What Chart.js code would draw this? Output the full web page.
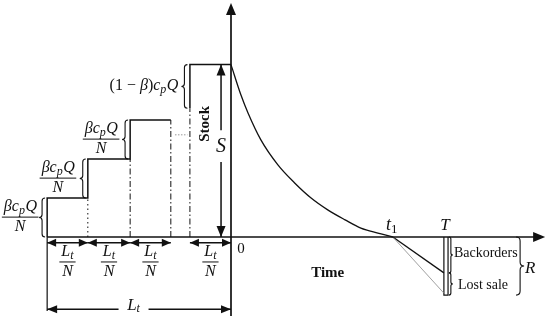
<!DOCTYPE html>
<html>
<head>
<meta charset="utf-8">
<script src="https://cdn.jsdelivr.net/npm/chart.js@4/dist/chart.umd.min.js"></script>
<style>
  html, body { margin: 0; padding: 0; background: #fff; }
  #wrap { width: 550px; height: 316px; }
</style>
</head>
<body>
<div id="wrap"><canvas id="chart"></canvas></div>
<script>
// x unit = one order interval Lt/N, y unit = one partial delivery βcpQ/N
const stepX = [-4.43, -3.45, -2.43, -1.45];   // risers of the stair
const stepLevel = [1, 2, 3];
const lastOrderX = -0.99;
const lastRiserTop = 3.3;
const stockS = 4.42;
const curveX = [0, 0.24, 0.41, 0.72, 1.13, 1.54, 1.93, 2.34, 2.75, 3.13, 3.54, 3.90];
const curveY = [4.42, 3.64, 3.18, 2.49, 1.85, 1.38, 1.00, 0.69, 0.44, 0.23, 0.10, 0];
const t1 = 3.90;
const endT = 5.13;
const backorderY = -0.92;
const lostSaleY = -1.44;
const barBottom = -1.49;
const xAxisEnd = 7.57;
const yAxisTop = 6.0;
const yAxisBottom = -2.03;
const ltArrowY = -1.85;
const stepArrowY = -0.15;

const BLACK = '#111';
const pts = (xs, ys) => xs.map((x, i) => ({ x: x, y: ys[i] }));

function line(data, opts) {
  return Object.assign({
    data: data, showLine: true, borderColor: BLACK, borderWidth: 1.5,
    pointRadius: 0, fill: false, clip: false, tension: 0
  }, opts || {});
}

const datasets = [];
// axes
datasets.push(line([{ x: stepX[0], y: 0 }, { x: xAxisEnd - 0.2, y: 0 }], { borderWidth: 1.7 }));
datasets.push(line([{ x: 0, y: yAxisBottom }, { x: 0, y: yAxisTop - 0.25 }], { borderWidth: 1.7 }));
// stair outline
const stair = [{ x: stepX[0], y: 0 }];
stepLevel.forEach((lv, i) => {
  stair.push({ x: stepX[i], y: lv });
  stair.push({ x: stepX[i + 1], y: lv });
  if (i < stepLevel.length - 1) stair.push({ x: stepX[i + 1], y: stepLevel[i + 1] });
});
datasets.push(line(stair));
// last order
datasets.push(line([{ x: lastOrderX, y: lastRiserTop }, { x: lastOrderX, y: stockS }, { x: 0, y: stockS }]));
// dash-dot risers down to the axis
stepX.slice(1).forEach((x, i) => {
  datasets.push(line([{ x: x, y: 0 }, { x: x, y: stepLevel[i] }],
    { borderWidth: 1, borderDash: i === 0 ? [1.5, 3] : [6, 2.5, 1.5, 2.5] }));
});
datasets.push(line([{ x: lastOrderX, y: 0 }, { x: lastOrderX, y: lastRiserTop }],
  { borderWidth: 1, borderDash: [6, 2.5, 1.5, 2.5] }));
// ellipsis between stairs
datasets.push(line([{ x: -1.35, y: 2.62 }, { x: -1.05, y: 2.62 }], { borderWidth: 1, borderColor: '#999', borderDash: [1.5, 1.5] }));
// inventory depletion curve
datasets.push(line(pts(curveX, curveY), { borderWidth: 1.3, tension: 0.4, cubicInterpolationMode: 'monotone' }));
// shortage lines
datasets.push(line([{ x: t1, y: 0 }, { x: endT, y: lostSaleY }], { borderWidth: 0.8, borderColor: '#888' }));
datasets.push(line([{ x: t1, y: 0 }, { x: endT, y: backorderY }], { borderWidth: 1.3 }));
// replenishment bar at T
datasets.push(line([{ x: endT, y: 0 }, { x: endT, y: barBottom }, { x: endT + 0.1, y: barBottom }, { x: endT + 0.1, y: 0 }], { borderWidth: 1.2 }));
// Lt dimension verticals
datasets.push(line([{ x: stepX[0], y: 0 }, { x: stepX[0], y: ltArrowY - 0.05 }], { borderWidth: 1.2 }));

// annotations in data units
const dimArrows = [
  [stepX[0], stepX[1], stepArrowY], [stepX[1], stepX[2], stepArrowY],
  [stepX[2], stepX[3], stepArrowY], [lastOrderX, 0, stepArrowY]
];
const leftBraces = [
  [stepX[0] - 0.05, 0, 1], [stepX[1] - 0.05, 1, 2], [stepX[2] - 0.05, 2, 3], [lastOrderX - 0.06, lastRiserTop, stockS]
];
const fracLabels = [[-5.08, 0.51], [-4.17, 1.51], [-3.13, 2.51]];

function mathText(ctx, parts, x, y, size, align) {
  const fonts = {
    i: 'italic ' + size + 'px "Liberation Serif"',
    r: size + 'px "Liberation Serif"',
    s: 'italic ' + Math.round(size * 0.72) + 'px "Liberation Serif"',
    sr: Math.round(size * 0.72) + 'px "Liberation Serif"'
  };
  let w = 0;
  parts.forEach(p => { ctx.font = fonts[p[1]]; w += ctx.measureText(p[0]).width; });
  let cx = align === 'left' ? x : align === 'right' ? x - w : x - w / 2;
  ctx.textBaseline = 'middle';
  ctx.textAlign = 'left';
  parts.forEach(p => {
    ctx.font = fonts[p[1]];
    const dy = (p[1] === 's' || p[1] === 'sr') ? size * 0.24 : 0;
    ctx.fillText(p[0], cx, y + dy);
    cx += ctx.measureText(p[0]).width + (p[1] === 's' ? 0.5 : 0);
  });
  return w;
}

function fraction(ctx, num, den, x, y, size) {
  const w1 = mathText(ctx, num, x, y - 10, size, 'center');
  const w2 = mathText(ctx, den, x, y + 10, size, 'center');
  const w = Math.max(w1, w2) + 4;
  ctx.beginPath();
  ctx.moveTo(x - w / 2, y); ctx.lineTo(x + w / 2, y);
  ctx.lineWidth = 1; ctx.stroke();
}

function head(ctx, x, y, dx, dy, len, half) {
  ctx.beginPath();
  ctx.moveTo(x, y);
  ctx.lineTo(x - dx * len - dy * half, y - dy * len + dx * half);
  ctx.lineTo(x - dx * len + dy * half, y - dy * len - dx * half);
  ctx.closePath(); ctx.fill();
}

function brace(ctx, x, y1, y2, dir, w) {
  // dir -1: tip points left, +1: tip points right
  const ym = (y1 + y2) / 2, r = w / 2;
  ctx.beginPath();
  ctx.moveTo(x, y1);
  ctx.quadraticCurveTo(x + dir * r, y1, x + dir * r, y1 + r);
  ctx.lineTo(x + dir * r, ym - r);
  ctx.quadraticCurveTo(x + dir * r, ym, x + dir * w, ym);
  ctx.quadraticCurveTo(x + dir * r, ym, x + dir * r, ym + r);
  ctx.lineTo(x + dir * r, y2 - r);
  ctx.quadraticCurveTo(x + dir * r, y2, x, y2);
  ctx.lineWidth = 1.1; ctx.stroke();
}

const decor = {
  id: 'decor',
  afterDatasetsDraw(chart) {
    const ctx = chart.ctx;
    const px = v => chart.scales.x.getPixelForValue(v);
    const py = v => chart.scales.y.getPixelForValue(v);
    ctx.save();
    ctx.fillStyle = BLACK; ctx.strokeStyle = BLACK;

    // axis arrowheads
    head(ctx, px(xAxisEnd), py(0), 1, 0, 12, 5);
    head(ctx, px(0), py(yAxisTop), 0, -1, 12, 5);

    // Lt/N dimension arrows
    dimArrows.forEach(a => {
      ctx.beginPath(); ctx.moveTo(px(a[0]), py(a[2])); ctx.lineTo(px(a[1]), py(a[2]));
      ctx.lineWidth = 1.5; ctx.stroke();
      head(ctx, px(a[0]), py(a[2]), -1, 0, 9, 4);
      head(ctx, px(a[1]), py(a[2]), 1, 0, 9, 4);
      fraction(ctx, [['L', 'i'], ['t', 's']], [['N', 'i']], (px(a[0]) + px(a[1])) / 2, py(-0.64), 16);
    });

    // Lt arrow with gap for the label
    const lx = px(-2.3), ly = py(ltArrowY);
    ctx.lineWidth = 1.5;
    ctx.beginPath();
    ctx.moveTo(px(stepX[0]), ly); ctx.lineTo(lx - 17, ly);
    ctx.moveTo(lx + 13, ly); ctx.lineTo(px(0), ly);
    ctx.stroke();
    head(ctx, px(stepX[0]), ly, -1, 0, 10, 4);
    head(ctx, px(0), ly, 1, 0, 10, 4);
    mathText(ctx, [['L', 'i'], ['t', 's']], lx - 2, ly - 4, 17, 'center');

    // S arrow
    const sx = px(-0.24);
    ctx.beginPath();
    ctx.moveTo(sx, py(stockS)); ctx.lineTo(sx, py(2.74));
    ctx.moveTo(sx, py(1.92)); ctx.lineTo(sx, py(0));
    ctx.stroke();
    head(ctx, sx, py(stockS), 0, -1, 11, 4.5);
    head(ctx, sx, py(0), 0, 1, 11, 4.5);
    mathText(ctx, [['S', 'i']], sx, py(2.31), 20, 'center');

    // Stock label
    ctx.save();
    ctx.translate(px(-0.63), py(2.9));
    ctx.rotate(-Math.PI / 2);
    ctx.font = 'bold 15px "Liberation Serif"';
    ctx.textAlign = 'center'; ctx.textBaseline = 'middle';
    ctx.fillText('Stock', 0, 0);
    ctx.restore();

    // left braces and labels
    leftBraces.forEach(b => brace(ctx, px(b[0]), py(b[2]), py(b[1]), -1, 6));
    fracLabels.forEach(f => {
      fraction(ctx, [['β', 'i'], ['c', 'i'], ['p', 's'], ['Q', 'i']], [['N', 'i']], px(f[0]), py(f[1]), 16);
    });
    mathText(ctx, [['(1 − ', 'r'], ['β', 'i'], [')', 'r'], ['c', 'i'], ['p', 's'], ['Q', 'i']],
      px(-1.28), py(3.88), 16, 'right');

    // time axis labels
    mathText(ctx, [['t', 'i'], ['1', 'sr']], px(t1) - 1, py(0.3), 18, 'center');
    mathText(ctx, [['T', 'i']], px(endT) + 1, py(0.3), 17, 'center');
    mathText(ctx, [['0', 'r']], px(0.24), py(-0.31), 15, 'center');
    ctx.font = 'bold 15px "Liberation Serif"';
    ctx.textAlign = 'center'; ctx.textBaseline = 'middle';
    ctx.fillText('Time', px(2.33), py(-0.92));

    // shortage braces and labels
    brace(ctx, px(endT + 0.12), py(0), py(backorderY), 1, 4);
    brace(ctx, px(endT + 0.12), py(backorderY), py(barBottom), 1, 4);
    ctx.font = '14px "Liberation Serif"';
    ctx.textAlign = 'left';
    ctx.fillText('Backorders', px(endT) + 10, py(-0.43));
    ctx.fillText('Lost sale', px(endT) + 14, py(-1.24));
    brace(ctx, px(6.87), py(0), py(barBottom), 1, 8);
    mathText(ctx, [['R', 'i']], px(6.87) + 9, py(-0.8), 17, 'left');

    ctx.restore();
  }
};

new Chart(document.getElementById('chart'), {
  type: 'scatter',
  data: { datasets: datasets },
  options: {
    responsive: true,
    maintainAspectRatio: false,
    animation: false,
    layout: { padding: 0 },
    plugins: { legend: { display: false }, tooltip: { enabled: false } },
    scales: {
      x: { display: false, min: -231 / 41.5, max: 319 / 41.5 },
      y: { display: false, min: -79 / 39, max: 237 / 39 }
    }
  },
  plugins: [decor]
});
</script>
</body>
</html>
